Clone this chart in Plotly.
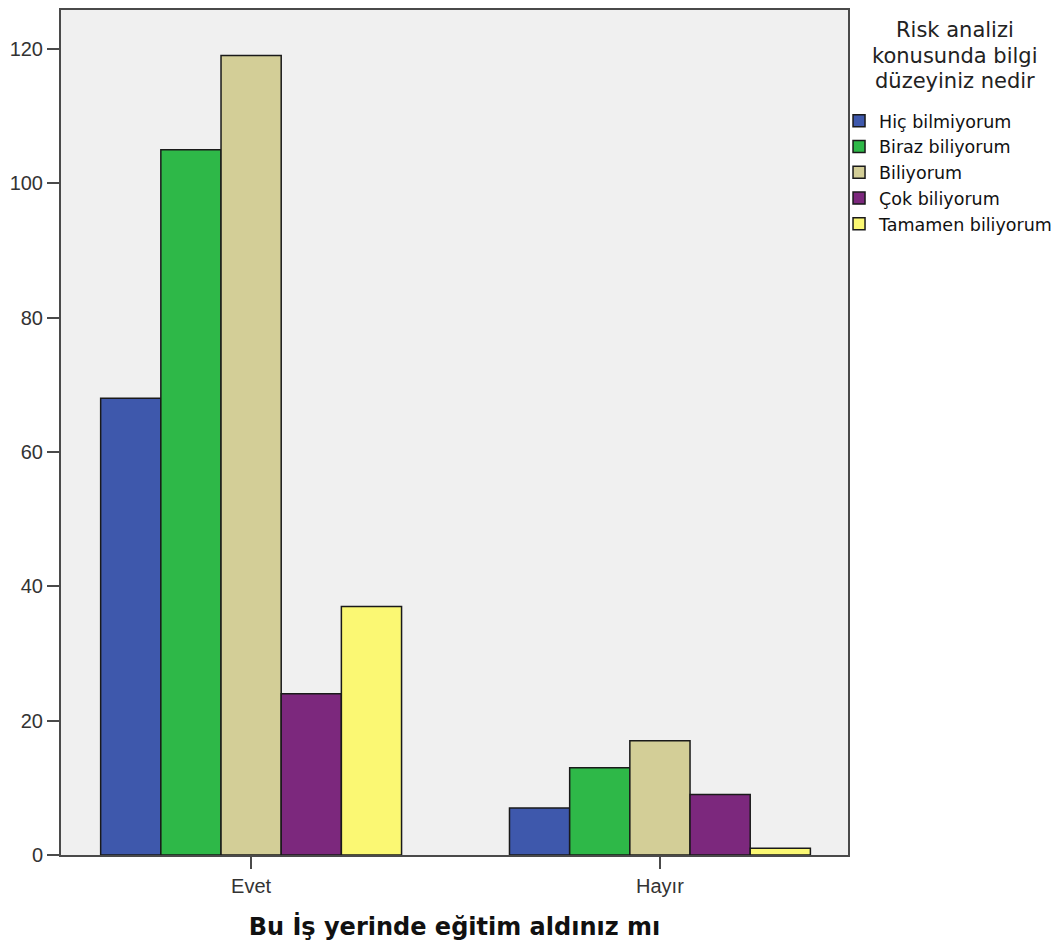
import plotly.graph_objects as go

categories = ["Evet", "Hayır"]
series_names = ["Hiç bilmiyorum", "Biraz biliyorum", "Biliyorum", "Çok biliyorum", "Tamamen biliyorum"]
values = {
    "Hiç bilmiyorum": [68, 7],
    "Biraz biliyorum": [105, 13],
    "Biliyorum": [119, 17],
    "Çok biliyorum": [24, 9],
    "Tamamen biliyorum": [37, 1],
}
colors = ["#3E58AC", "#2EB848", "#D3CE97", "#7C287D", "#FBF873"]
y_ticks = [0, 20, 40, 60, 80, 100, 120]
legend_title_lines = ["Risk analizi", "konusunda bilgi", "düzeyiniz nedir"]
x_title = "Bu İş yerinde eğitim aldınız mı"

fig = go.Figure()
for name, col in zip(series_names, colors):
    fig.add_trace(go.Bar(
        x=categories, y=values[name], name=name,
        marker=dict(color=col, line=dict(color="#1a1a1a", width=1.5)),
    ))

# legend title, one line per annotation (tight line spacing as in the reference)
for i, line in enumerate(legend_title_lines):
    fig.add_annotation(
        text=line, xref="paper", yref="paper", x=1.1354, y=1.0,
        xanchor="center", yanchor="top", yshift=-6 - 25.5 * i,
        showarrow=False, align="center",
        font=dict(family="DejaVu Sans", size=21, color="#222222"),
    )

fig.update_layout(
    width=1055, height=941,
    barmode="group", bargap=0.264, bargroupgap=0,
    plot_bgcolor="#F0F0F0", paper_bgcolor="white",
    margin=dict(l=53, r=215, t=0, b=94),
    font=dict(family="Arial", color="#333333"),
    legend=dict(
        x=0.9886, xanchor="left", y=0.8900, yanchor="top",
        bgcolor="rgba(0,0,0,0)",
        font=dict(family="DejaVu Sans", size=17.5, color="#111111"),
        tracegroupgap=0, itemwidth=30,
    ),
    xaxis=dict(
        range=[-0.465, 1.46],
        showline=True, mirror=True, linecolor="#4a4a4a", linewidth=2,
        ticks="outside", ticklen=12, tickwidth=2, tickcolor="#4a4a4a",
        tickfont=dict(size=20, color="#333333"),
        title=dict(text="<b>" + x_title + "</b>",
                   font=dict(family="DejaVu Sans", size=24, color="#111111"), standoff=22),
        showgrid=False,
    ),
    yaxis=dict(
        range=[0, 125.79], tickvals=y_ticks,
        showline=True, mirror=True, linecolor="#4a4a4a", linewidth=2,
        ticks="outside", ticklen=12, tickwidth=2, tickcolor="#4a4a4a",
        tickfont=dict(size=20, color="#333333"),
        showgrid=False, zeroline=False,
    ),
)

fig.write_html("out.html")
